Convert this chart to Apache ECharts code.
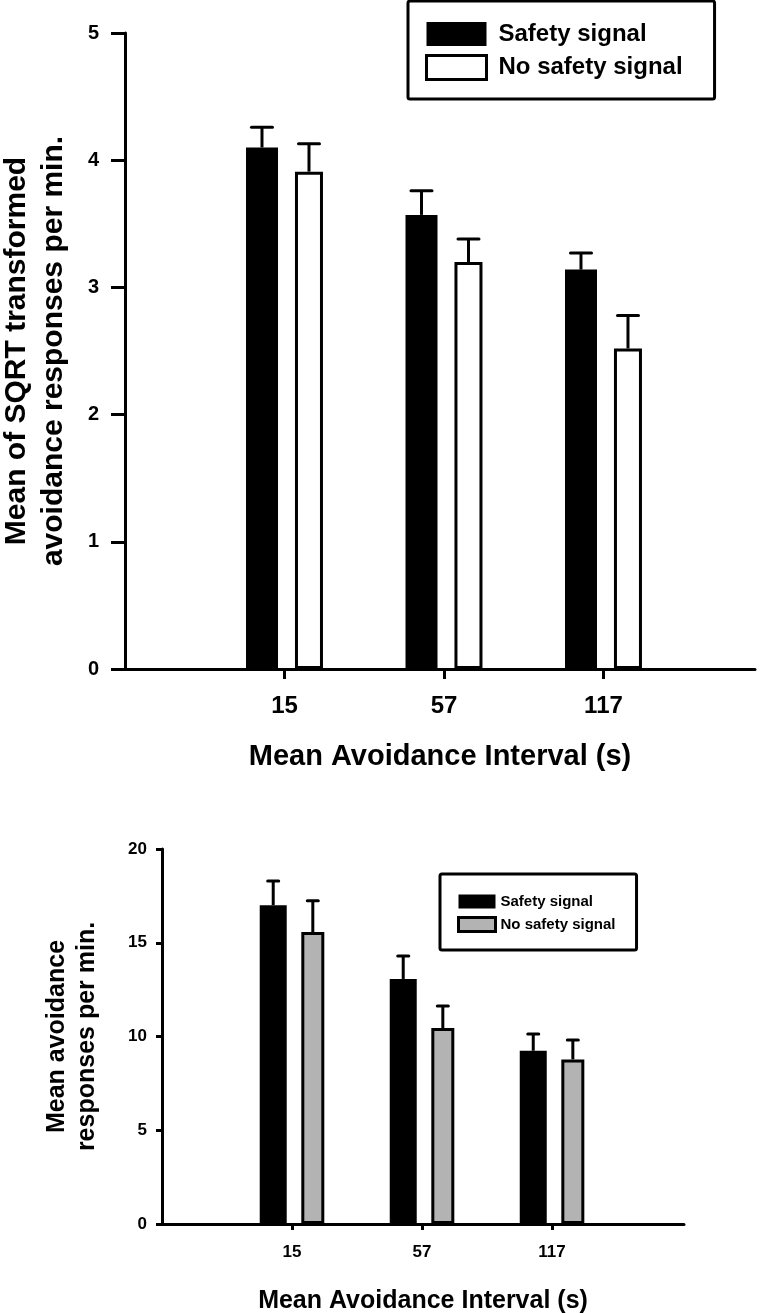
<!DOCTYPE html>
<html>
<head>
<meta charset="utf-8">
<script src="https://cdn.jsdelivr.net/npm/echarts@6/dist/echarts.min.js"></script>
<style>
html,body{margin:0;padding:0;background:#fff;}
#chart{width:764px;height:1313px;}
</style>
</head>
<body>
<div id="chart"></div>
<script>
// ---- data ----
const categories = ['15', '57', '117'];
const seriesNames = ['Safety signal', 'No safety signal'];
// Top panel: mean of SQRT transformed avoidance responses per min.
const sqrtSafety = [4.10, 3.57, 3.14];
const sqrtSafetyErr = [0.16, 0.19, 0.13];
const sqrtNoSafety = [3.91, 3.20, 2.52];
const sqrtNoSafetyErr = [0.22, 0.18, 0.26];
// Bottom panel: mean avoidance responses per min.
const rateSafety = [17.0, 13.07, 9.24];
const rateSafetyErr = [1.29, 1.22, 0.89];
const rateNoSafety = [15.57, 10.45, 8.78];
const rateNoSafetyErr = [1.67, 1.18, 1.03];
const topTicks = [0, 1, 2, 3, 4, 5];
const bottomTicks = [0, 5, 10, 15, 20];

const FONT = "'Liberation Sans', Arial, sans-serif";
const pos = categories.map((c, i) => i + 1);
const toPairs = (vals) => vals.map((v, i) => [pos[i], v]);
const toErr = (vals, errs) => vals.map((v, i) => [pos[i], v, errs[i]]);

function errRender(offset, capHalf) {
  return function (params, api) {
    const x = api.value(0), v = api.value(1), e = api.value(2);
    const p0 = api.coord([x, v]);
    const p1 = api.coord([x, v + e]);
    const cx = p0[0] + offset;
    return {
      type: 'group',
      children: [
        { type: 'line', shape: { x1: cx, y1: p0[1], x2: cx, y2: p1[1] }, style: { stroke: '#000', lineWidth: 3 } },
        { type: 'line', shape: { x1: cx - capHalf, y1: p1[1], x2: cx + capHalf, y2: p1[1] }, style: { stroke: '#000', lineWidth: 3, lineCap: 'round' } }
      ]
    };
  };
}

const axisLineStyle = { color: '#000', width: 3 };

const option = {
  backgroundColor: '#fff',
  animation: false,
  textStyle: { fontFamily: FONT },
  grid: [
    { left: 125, top: 33, width: 630, height: 636, containLabel: false, outerBoundsMode: 'none' },
    { left: 162, top: 849, width: 522, height: 375, containLabel: false, outerBoundsMode: 'none' }
  ],
  legend: [
    {
      left: 408, top: 1, orient: 'vertical', selectedMode: false,
      padding: [21, 32, 18, 17], itemWidth: 60, itemHeight: 24, itemGap: 8,
      borderColor: '#000', borderWidth: 3, borderRadius: 2, backgroundColor: '#fff',
      textStyle: { fontFamily: FONT, fontSize: 24, fontWeight: 'bold', color: '#000', padding: [0, 0, 0, 7] },
      data: [
        { name: seriesNames[0], icon: 'rect', itemStyle: { color: '#000', borderWidth: 0 } },
        { name: seriesNames[1], icon: 'rect', itemStyle: { color: '#fff', borderColor: '#000', borderWidth: 3 } }
      ]
    },
    {
      left: 440, top: 874, orient: 'vertical', selectedMode: false,
      padding: [20, 21, 17, 17], itemWidth: 37, itemHeight: 14, itemGap: 7,
      borderColor: '#000', borderWidth: 3, borderRadius: 2, backgroundColor: '#fff',
      textStyle: { fontFamily: FONT, fontSize: 15, fontWeight: 'bold', color: '#000' },
      data: [
        { name: seriesNames[0], icon: 'rect', itemStyle: { color: '#000', borderWidth: 0 } },
        { name: seriesNames[1], icon: 'rect', itemStyle: { color: '#b3b3b3', borderColor: '#000', borderWidth: 3 } }
      ]
    }
  ],
  xAxis: [
    {
      gridIndex: 0, type: 'value', min: 0, max: 3.95,
      name: 'Mean Avoidance Interval (s)', nameLocation: 'middle', nameGap: 73,
      nameTextStyle: { fontFamily: FONT, fontSize: 29, fontWeight: 'bold', color: '#000' },
      axisLine: { show: true, onZero: false, lineStyle: axisLineStyle },
      axisTick: { show: true, customValues: pos, length: 10, lineStyle: { color: '#000', width: 3 } },
      axisLabel: { customValues: pos, margin: 25, fontFamily: FONT, fontSize: 24, fontWeight: 'bold', color: '#000',
        formatter: (v) => categories[Math.round(v) - 1] || '' },
      splitLine: { show: false }
    },
    {
      gridIndex: 1, type: 'value', min: 0, max: 4.015,
      name: 'Mean Avoidance Interval (s)', nameLocation: 'middle', nameGap: 65,
      nameTextStyle: { fontFamily: FONT, fontSize: 25, fontWeight: 'bold', color: '#000' },
      axisLine: { show: true, onZero: false, lineStyle: axisLineStyle },
      axisTick: { show: true, customValues: pos, length: 6, lineStyle: { color: '#000', width: 3 } },
      axisLabel: { customValues: pos, margin: 20, fontFamily: FONT, fontSize: 17, fontWeight: 'bold', color: '#000',
        formatter: (v) => categories[Math.round(v) - 1] || '' },
      splitLine: { show: false }
    }
  ],
  yAxis: [
    {
      gridIndex: 0, type: 'value', min: topTicks[0], max: topTicks[topTicks.length - 1], interval: 1,
      name: 'Mean of SQRT transformed\navoidance responses per min.', nameLocation: 'middle', nameGap: 53, nameRotate: 90,
      nameTextStyle: { fontFamily: FONT, fontSize: 30, fontWeight: 'bold', color: '#000', lineHeight: 37 },
      axisLine: { show: true, onZero: false, lineStyle: axisLineStyle },
      axisTick: { show: true, length: 14, lineStyle: { color: '#000', width: 3 } },
      axisLabel: { margin: 26, fontFamily: FONT, fontSize: 20, fontWeight: 'bold', color: '#000' },
      splitLine: { show: false }
    },
    {
      gridIndex: 1, type: 'value', min: bottomTicks[0], max: bottomTicks[bottomTicks.length - 1], interval: 5,
      name: 'Mean avoidance\nresponses per min.', nameLocation: 'middle', nameGap: 60, nameRotate: 90,
      nameTextStyle: { fontFamily: FONT, fontSize: 25, fontWeight: 'bold', color: '#000', lineHeight: 30 },
      axisLine: { show: true, onZero: false, lineStyle: axisLineStyle },
      axisTick: { show: true, length: 6, lineStyle: { color: '#000', width: 3 } },
      axisLabel: { margin: 15, fontFamily: FONT, fontSize: 17, fontWeight: 'bold', color: '#000' },
      splitLine: { show: false }
    }
  ],
  series: [
    { name: seriesNames[0], type: 'bar', xAxisIndex: 0, yAxisIndex: 0, barWidth: 32, barGap: '53%',
      itemStyle: { color: '#000' }, data: toPairs(sqrtSafety) },
    { name: seriesNames[1], type: 'bar', xAxisIndex: 0, yAxisIndex: 0, barWidth: 28, barGap: '53%',
      itemStyle: { color: '#fff', borderColor: '#000', borderWidth: 3 }, data: toPairs(sqrtNoSafety) },
    { type: 'custom', xAxisIndex: 0, yAxisIndex: 0, renderItem: errRender(-22.5, 10.5), data: toErr(sqrtSafety, sqrtSafetyErr), z: 5 },
    { type: 'custom', xAxisIndex: 0, yAxisIndex: 0, renderItem: errRender(24.5, 10.5), data: toErr(sqrtNoSafety, sqrtNoSafetyErr), z: 5 },

    { name: seriesNames[0], type: 'bar', xAxisIndex: 1, yAxisIndex: 1, barWidth: 27, barGap: '54%',
      itemStyle: { color: '#000' }, data: toPairs(rateSafety) },
    { name: seriesNames[1], type: 'bar', xAxisIndex: 1, yAxisIndex: 1, barWidth: 23, barGap: '54%',
      itemStyle: { color: '#b3b3b3', borderColor: '#000', borderWidth: 3 }, data: toPairs(rateNoSafety) },
    { type: 'custom', xAxisIndex: 1, yAxisIndex: 1, renderItem: errRender(-18.8, 5.5), data: toErr(rateSafety, rateSafetyErr), z: 5 },
    { type: 'custom', xAxisIndex: 1, yAxisIndex: 1, renderItem: errRender(20.8, 5.5), data: toErr(rateNoSafety, rateNoSafetyErr), z: 5 }
  ]
};

const chart = echarts.init(document.getElementById('chart'), null, { renderer: 'canvas', width: 764, height: 1313 });
chart.setOption(option);
</script>
</body>
</html>
